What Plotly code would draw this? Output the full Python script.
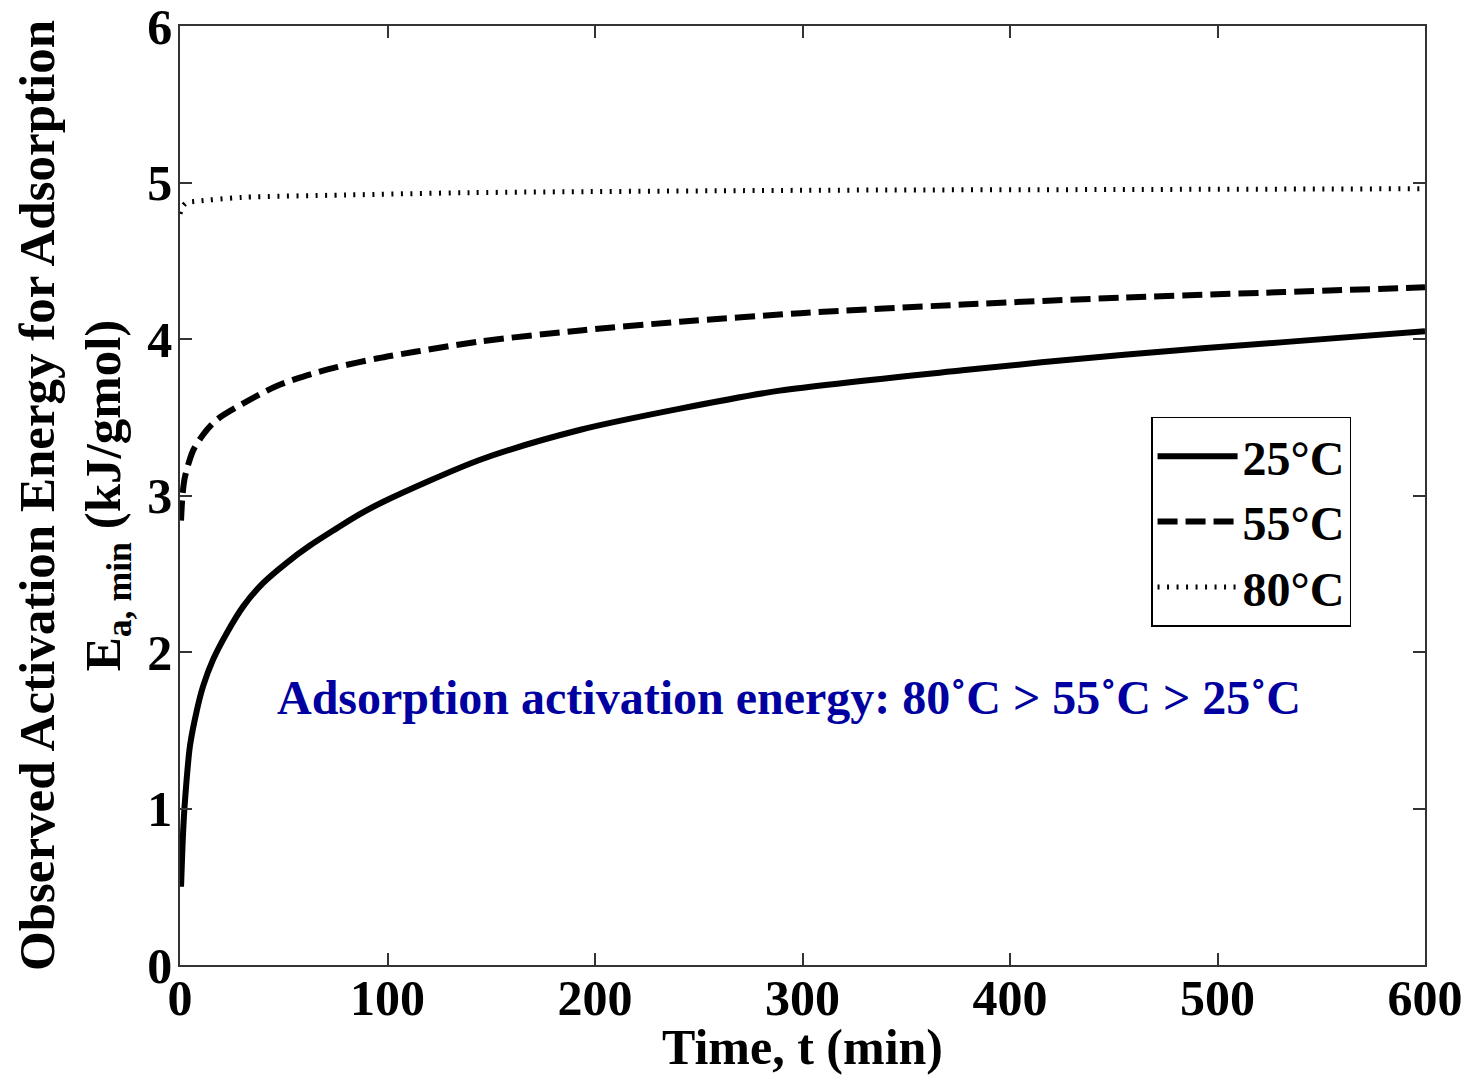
import plotly.graph_objects as go

# ---- data ----
t_25 = [0.5, 1.5, 2.4, 4.8, 8.0, 11.1, 15.9, 22.5, 30.4, 40.0, 51.4, 62.6, 75.5, 85.2, 98,
        145, 193, 241, 289, 377, 455, 532, 600]
e_25 = [0.50, 0.85, 1.05, 1.40, 1.62, 1.78, 1.95, 2.12, 2.29, 2.44, 2.57, 2.68, 2.79, 2.87, 2.96,
        3.23, 3.42, 3.555, 3.67, 3.80, 3.90, 3.98, 4.05]

t_55 = [0.5, 1.2, 2.4, 6.4, 11.2, 15, 19.3, 32, 46.6, 59.4, 75.5, 94.8, 114, 145, 193, 241, 299, 377, 455, 532, 600]
e_55 = [2.84, 3.00, 3.12, 3.29, 3.39, 3.45, 3.50, 3.60, 3.70, 3.76, 3.82, 3.875, 3.92, 3.985, 4.055, 4.11,
        4.165, 4.22, 4.265, 4.30, 4.33]

t_80 = [0, 1, 3, 8, 30, 80, 140, 300, 450, 600]
e_80 = [4.80, 4.84, 4.87, 4.88, 4.905, 4.92, 4.935, 4.95, 4.955, 4.96]

series_names = ["25°C", "55°C", "80°C"]
x_ticks = [0, 100, 200, 300, 400, 500, 600]
y_ticks = [0, 1, 2, 3, 4, 5, 6]

FONT = "Liberation Serif, Times New Roman, serif"

fig = go.Figure()
fig.add_trace(go.Scatter(x=t_25, y=e_25, mode="lines", name=series_names[0],
                         line=dict(color="black", width=6, shape="spline", smoothing=0.8)))
fig.add_trace(go.Scatter(x=t_55, y=e_55, mode="lines", name=series_names[1],
                         line=dict(color="black", width=6, dash="20px,8px", shape="spline", smoothing=0.8)))
fig.add_trace(go.Scatter(x=t_80, y=e_80, mode="lines", name=series_names[2],
                         line=dict(color="black", width=5, dash="2px,7.5px", shape="spline", smoothing=0.8)))

axis_common = dict(
    showline=True, linecolor="#333333", linewidth=1.5, mirror="allticks",
    ticks="inside", ticklen=12, tickwidth=1.5, tickcolor="#333333",
    showgrid=False, zeroline=False, ticklabeloverflow="allow",
    tickfont=dict(family=FONT, size=50, color="black", weight="bold"),
)

fig.update_xaxes(range=[0, 600], tickvals=x_ticks, ticktext=[str(v) for v in x_ticks],
                 ticklabelstandoff=-12,
                 title=dict(text="Time, t (min)", font=dict(family=FONT, size=50, color="black", weight="bold"),
                            standoff=4),
                 **axis_common)
fig.update_yaxes(range=[0, 6], tickvals=y_ticks, ticktext=[str(v) for v in y_ticks],
                 ticklabelstandoff=-4,
                 title=dict(text="Observed Activation Energy for Adsorption<br>E<sub>a, min</sub> (kJ/gmol)",
                            font=dict(family=FONT, size=51, color="black", weight="bold"),
                            standoff=10),
                 **axis_common)

fig.add_annotation(text="Adsorption activation energy: 80˚C > 55˚C > 25˚C",
                   xref="paper", yref="paper", x=0.489, y=0.2854,
                   xanchor="center", yanchor="middle", showarrow=False,
                   font=dict(family=FONT, size=48, color="#0000A0", weight="bold"))

fig.update_layout(
    width=1474, height=1075,
    margin=dict(l=180, r=49, t=26, b=110, autoexpand=False),
    paper_bgcolor="white", plot_bgcolor="white",
    showlegend=True,
    legend=dict(x=0.9406, y=0.5836, xanchor="right", yanchor="top",
                bgcolor="white", bordercolor="black", borderwidth=1.5,
                font=dict(family=FONT, size=48, color="black", weight="bold"),
                itemwidth=80, tracegroupgap=0),
)

fig.write_html("out.html")
